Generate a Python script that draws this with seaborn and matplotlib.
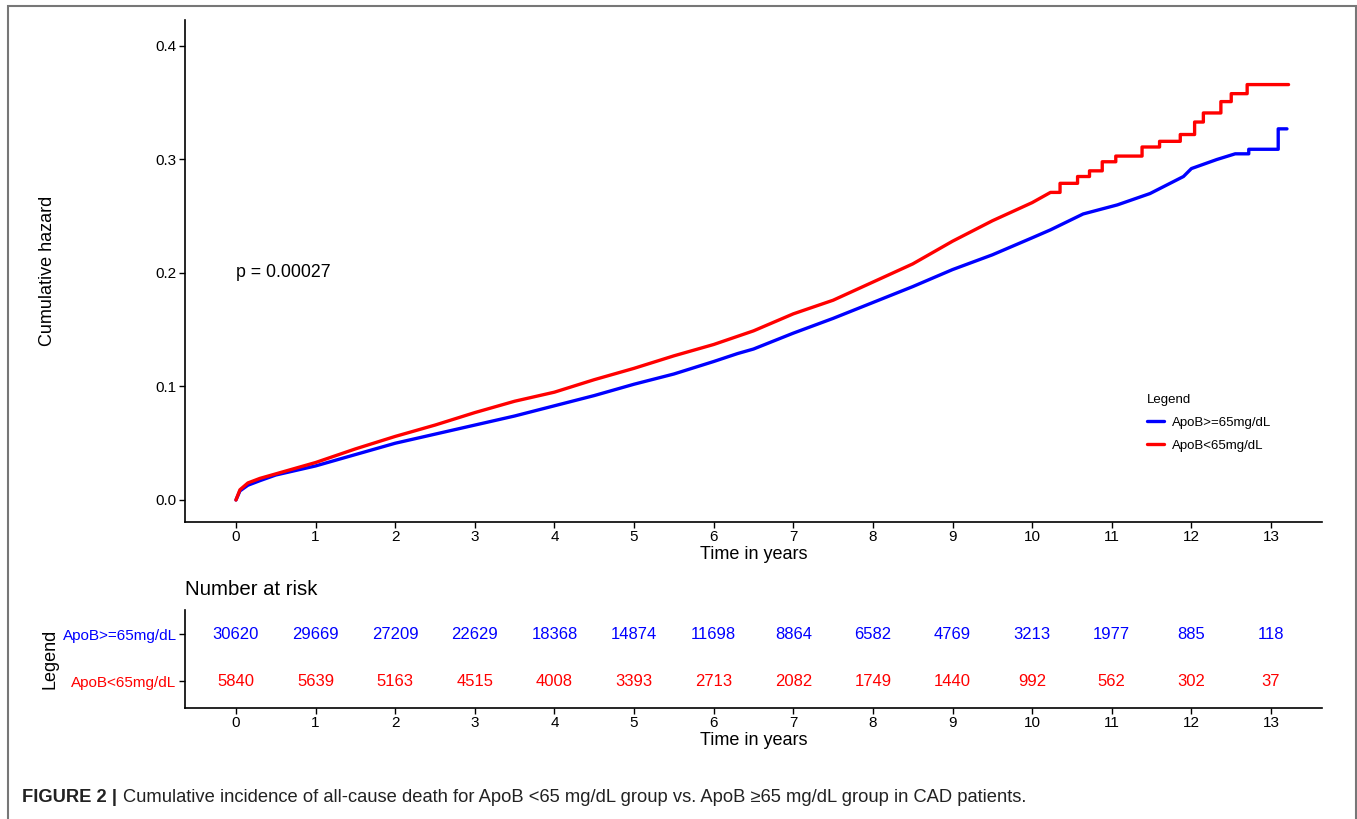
import numpy as np
import pandas as pd
import matplotlib.pyplot as plt
import matplotlib.patches as mpatches
import seaborn as sns

# Cumulative hazard (repeated times = vertical steps)
blue_time = [0, 0.05, 0.15, 0.3, 0.5, 0.75, 1, 1.5, 2, 2.5, 3, 3.5, 4, 4.5, 5, 5.5, 6, 6.3,
             6.5, 7, 7.5, 8, 8.5, 9, 9.5, 10, 10.23, 10.64, 11.07, 11.48, 11.9, 12.0, 12.32,
             12.55, 12.72, 12.72, 13.09, 13.09, 13.2]
blue_haz = [0, 0.008, 0.013, 0.017, 0.022, 0.026, 0.030, 0.040, 0.050, 0.058, 0.066, 0.074,
            0.083, 0.092, 0.102, 0.111, 0.122, 0.129, 0.133, 0.147, 0.160, 0.174, 0.188, 0.203,
            0.216, 0.231, 0.238, 0.252, 0.260, 0.270, 0.285, 0.292, 0.300, 0.305, 0.305, 0.309,
            0.309, 0.327, 0.327]
red_time = [0, 0.05, 0.15, 0.3, 0.5, 0.75, 1, 1.5, 2, 2.5, 3, 3.5, 4, 4.5, 5, 5.5, 6, 6.5, 7,
            7.5, 8, 8.5, 9, 9.5, 10, 10.23, 10.35, 10.35, 10.57, 10.57, 10.72, 10.72, 10.88,
            10.88, 11.05, 11.05, 11.38, 11.38, 11.6, 11.6, 11.86, 11.86, 12.04, 12.04, 12.15,
            12.15, 12.37, 12.37, 12.5, 12.5, 12.7, 12.7, 13.22]
red_haz = [0, 0.009, 0.015, 0.019, 0.023, 0.028, 0.033, 0.045, 0.056, 0.066, 0.077, 0.087,
           0.095, 0.106, 0.116, 0.127, 0.137, 0.149, 0.164, 0.176, 0.192, 0.208, 0.228, 0.246,
           0.262, 0.271, 0.271, 0.279, 0.279, 0.285, 0.285, 0.290, 0.290, 0.298, 0.298, 0.303,
           0.303, 0.311, 0.311, 0.316, 0.316, 0.322, 0.322, 0.333, 0.333, 0.341, 0.341, 0.351,
           0.351, 0.358, 0.358, 0.366, 0.366]

groups = ['ApoB>=65mg/dL', 'ApoB<65mg/dL']
colors = ['#0000FF', '#FF0000']
risk_times = list(range(14))
risk_blue = [30620, 29669, 27209, 22629, 18368, 14874, 11698, 8864, 6582, 4769, 3213, 1977, 885, 118]
risk_red = [5840, 5639, 5163, 4515, 4008, 3393, 2713, 2082, 1749, 1440, 992, 562, 302, 37]


def main():
    sns.set_theme(style="white")
    plt.rcParams['font.family'] = ['Liberation Sans', 'DejaVu Sans']
    plt.rcParams.update({'text.color': 'black', 'axes.labelcolor': 'black',
                         'xtick.color': 'black', 'ytick.color': 'black'})

    df = pd.concat([
        pd.DataFrame({'time': blue_time, 'haz': blue_haz, 'group': groups[0]}),
        pd.DataFrame({'time': red_time, 'haz': red_haz, 'group': groups[1]}),
    ], ignore_index=True)

    fig = plt.figure(figsize=(13.57, 8.19), dpi=100)
    W, H = 1357, 819

    def box(x0, y0, x1, y1):
        return [x0 / W, 1 - y1 / H, (x1 - x0) / W, (y1 - y0) / H]

    ax = fig.add_axes(box(185, 20, 1322, 522))
    sns.lineplot(data=df, x='time', y='haz', hue='group', palette=colors,
                 estimator=None, sort=False, lw=2.4, ax=ax)
    ax.set_xlim(-0.64, 13.64)
    ax.set_ylim(-0.0194, 0.4229)
    ax.set_xticks(range(14))
    ax.set_yticks([0, 0.1, 0.2, 0.3, 0.4])
    ax.set_yticklabels(['0.0', '0.1', '0.2', '0.3', '0.4'])
    ax.set_xlabel('Time in years', fontsize=13, labelpad=1)
    ax.set_ylabel('Cumulative hazard', fontsize=13, labelpad=72)
    ax.tick_params(axis='both', labelsize=11, length=4, width=1, color='black',
                   left=True, bottom=True, pad=2)
    for s in ['top', 'right']:
        ax.spines[s].set_visible(False)
    for s in ['left', 'bottom']:
        ax.spines[s].set_color('black')
        ax.spines[s].set_linewidth(1.2)
    ax.text(0, 0.2, 'p = 0.00027', fontsize=12.8, va='center', ha='left')
    leg = ax.legend(title='Legend', loc='upper left', bbox_to_anchor=(0.840, 0.268),
                    frameon=False, fontsize=9.5, title_fontsize=9.5, handlelength=1.3,
                    handletextpad=0.6, labelspacing=0.8, borderpad=0)
    leg._legend_box.align = 'left'

    # risk table
    ax2 = fig.add_axes(box(185, 610, 1322, 708))
    ax2.set_xlim(-0.64, 13.64)
    ax2.set_ylim(-0.57, 1.51)
    for t, b, r in zip(risk_times, risk_blue, risk_red):
        ax2.text(t, 1, str(b), color=colors[0], ha='center', va='center', fontsize=12)
        ax2.text(t, 0, str(r), color=colors[1], ha='center', va='center', fontsize=12)
    ax2.set_xticks(range(14))
    ax2.set_yticks([1, 0])
    ax2.set_yticklabels(groups, fontsize=11)
    for lbl, c in zip(ax2.get_yticklabels(), colors):
        lbl.set_color(c)
    ax2.tick_params(axis='both', length=4, width=1, color='black', left=True, bottom=True, pad=2)
    ax2.tick_params(axis='x', labelsize=11)
    ax2.set_xlabel('Time in years', fontsize=13, labelpad=1)
    ax2.set_ylabel('Legend', fontsize=13, labelpad=3)
    ax2.set_title('Number at risk', loc='left', fontsize=14.7, pad=11)
    for s in ['top', 'right']:
        ax2.spines[s].set_visible(False)
    for s in ['left', 'bottom']:
        ax2.spines[s].set_color('black')
        ax2.spines[s].set_linewidth(1.2)

    # caption and frame
    fig.text(22 / W, 1 - 797 / H, 'FIGURE 2 |', fontsize=13.2, fontweight='bold',
             va='center', ha='left', color='#222222')
    fig.text(123 / W, 1 - 797 / H,
             'Cumulative incidence of all-cause death for ApoB <65 mg/dL group vs. ApoB \u226565 mg/dL group in CAD patients.',
             fontsize=13.2, va='center', ha='left', color='#222222',
             family=['Liberation Sans', 'DejaVu Sans'])
    fig.patches.append(mpatches.Rectangle((8 / W, -0.02), 1348 / W, 1.02 - 6 / H,
                                          transform=fig.transFigure, fill=False,
                                          edgecolor='#777777', lw=1.5))

    fig.savefig('out.png', dpi=100)


if __name__ == "__main__":
    main()
